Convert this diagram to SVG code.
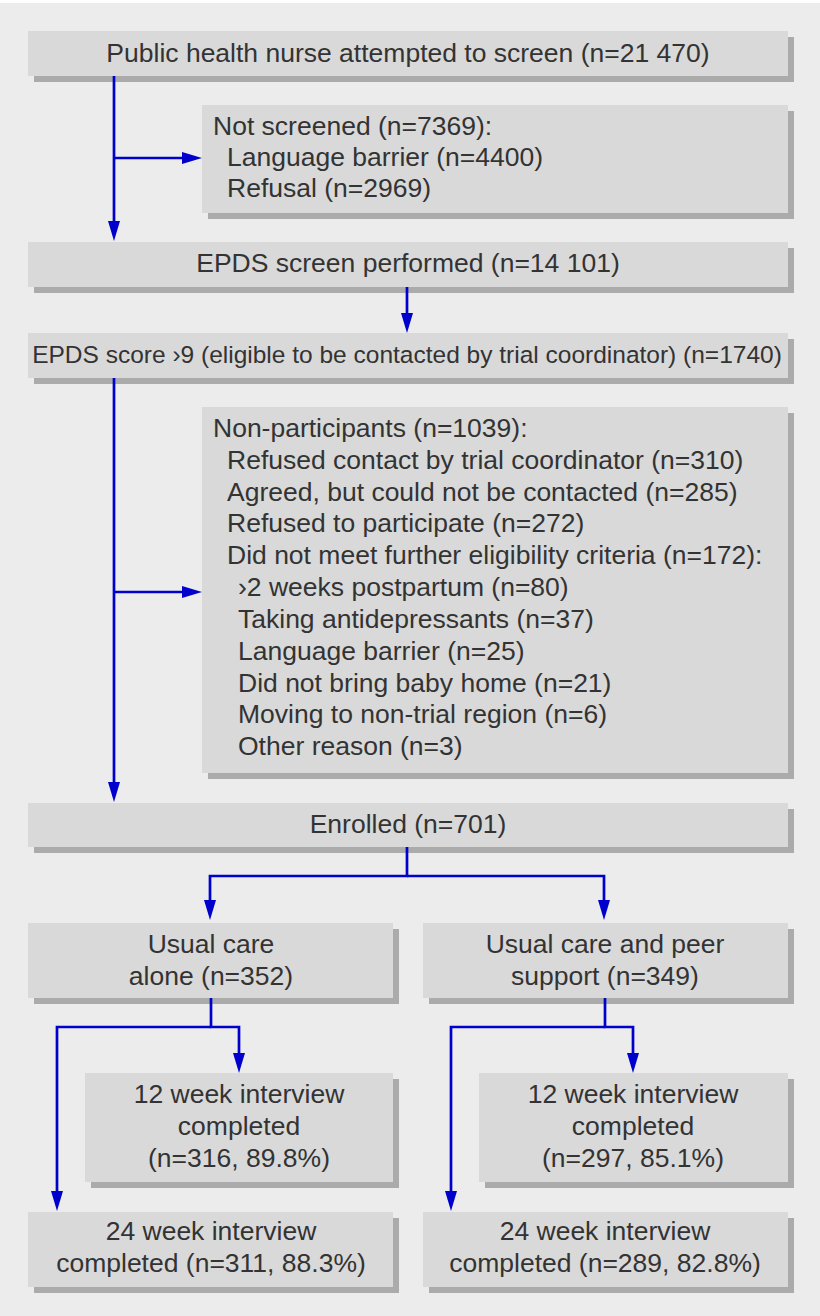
<svg xmlns="http://www.w3.org/2000/svg" width="820" height="1316" viewBox="0 0 820 1316">
<style>
.bg{fill:#ececec}
.box{fill:#d9d9d9}
.sh{fill:#ababab}
text{font-family:"Liberation Sans",Arial,sans-serif;font-size:26.5px;fill:#333}
.c{text-anchor:middle}
.con{fill:none;stroke:#0000cc;stroke-width:2.7;marker-end:url(#ah)}
</style>
<defs>
<marker id="ah" markerUnits="userSpaceOnUse" markerWidth="20" markerHeight="12" viewBox="0 0 20 12" refX="0" refY="6" orient="auto">
<path d="M0,0 L20,6 L0,12 z" fill="#0000cc"/>
</marker>
</defs>
<rect class="bg" x="0" y="0" width="820" height="1316"/>
<rect x="0" y="0" width="820" height="3" fill="#ffffff"/>

<g id="n1">
<rect class="sh" x="34" y="37" width="760" height="45"/>
<rect class="box" x="28" y="31" width="760" height="45"/>
<text class="c" x="408" y="62">Public health nurse attempted to screen (n=21 470)</text>
</g>
<g id="n2">
<rect class="sh" x="208" y="111" width="586" height="108"/>
<rect class="box" x="202" y="105" width="586" height="108"/>
<text x="213" y="135">Not screened (n=7369):</text>
<text x="227" y="166">Language barrier (n=4400)</text>
<text x="227" y="197">Refusal (n=2969)</text>
</g>
<g id="n3">
<rect class="sh" x="34" y="248" width="760" height="45"/>
<rect class="box" x="28" y="242" width="760" height="45"/>
<text class="c" x="408" y="272">EPDS screen performed (n=14 101)</text>
</g>
<g id="n4">
<rect class="sh" x="34" y="339" width="760" height="45"/>
<rect class="box" x="28" y="333" width="760" height="45"/>
<text class="c" x="407" y="363" style="font-size:24.5px">EPDS score ›9 (eligible to be contacted by trial coordinator) (n=1740)</text>
</g>
<g id="n5">
<rect class="sh" x="208" y="413" width="586" height="366"/>
<rect class="box" x="202" y="407" width="586" height="366"/>
<text x="213" y="437">Non-participants (n=1039):</text>
<text x="227" y="469">Refused contact by trial coordinator (n=310)</text>
<text x="227" y="500.5">Agreed, but could not be contacted (n=285)</text>
<text x="227" y="532">Refused to participate (n=272)</text>
<text x="227" y="564">Did not meet further eligibility criteria (n=172):</text>
<text x="238" y="596">›2 weeks postpartum (n=80)</text>
<text x="238" y="628">Taking antidepressants (n=37)</text>
<text x="238" y="659.5">Language barrier (n=25)</text>
<text x="238" y="691.5">Did not bring baby home (n=21)</text>
<text x="238" y="723">Moving to non-trial region (n=6)</text>
<text x="238" y="755">Other reason (n=3)</text>
</g>
<g id="n6">
<rect class="sh" x="34" y="809" width="760" height="44"/>
<rect class="box" x="28" y="803" width="760" height="44"/>
<text class="c" x="408" y="833">Enrolled (n=701)</text>
</g>
<g id="n7">
<rect class="sh" x="34" y="929" width="365" height="75"/>
<rect class="box" x="28" y="923" width="365" height="75"/>
<text class="c" x="211" y="953">Usual care</text>
<text class="c" x="211" y="985">alone (n=352)</text>
</g>
<g id="n8">
<rect class="sh" x="429" y="929" width="365" height="75"/>
<rect class="box" x="423" y="923" width="365" height="75"/>
<text class="c" x="605" y="953">Usual care and peer</text>
<text class="c" x="605" y="985">support (n=349)</text>
</g>
<g id="n9">
<rect class="sh" x="91" y="1079" width="308" height="109"/>
<rect class="box" x="85" y="1073" width="308" height="109"/>
<text class="c" x="239" y="1103">12 week interview</text>
<text class="c" x="239" y="1135">completed</text>
<text class="c" x="239" y="1167">(n=316, 89.8%)</text>
</g>
<g id="n10">
<rect class="sh" x="485" y="1079" width="309" height="109"/>
<rect class="box" x="479" y="1073" width="309" height="109"/>
<text class="c" x="633" y="1103">12 week interview</text>
<text class="c" x="633" y="1135">completed</text>
<text class="c" x="633" y="1167">(n=297, 85.1%)</text>
</g>
<g id="n11">
<rect class="sh" x="34" y="1218" width="365" height="75"/>
<rect class="box" x="28" y="1212" width="365" height="75"/>
<text class="c" x="211" y="1240">24 week interview</text>
<text class="c" x="211" y="1272">completed (n=311, 88.3%)</text>
</g>
<g id="n12">
<rect class="sh" x="429" y="1218" width="365" height="75"/>
<rect class="box" x="423" y="1212" width="365" height="75"/>
<text class="c" x="605" y="1240">24 week interview</text>
<text class="c" x="605" y="1272">completed (n=289, 82.8%)</text>
</g>

<g id="connectors">
<path class="con" d="M114,76 V221"/>
<path class="con" d="M114,158 H182"/>
<path class="con" d="M407,287 V313"/>
<path class="con" d="M114,378 V782"/>
<path class="con" d="M114,592 H182"/>
<path class="con" d="M407,847 V876 H210 V900"/>
<path class="con" d="M407,876 H604 V900"/>
<path class="con" d="M211,998 V1027 H239 V1053"/>
<path class="con" d="M211,1027 H57 V1191"/>
<path class="con" d="M605,998 V1027 H633 V1053"/>
<path class="con" d="M605,1027 H451 V1191"/>
</g>
</svg>
